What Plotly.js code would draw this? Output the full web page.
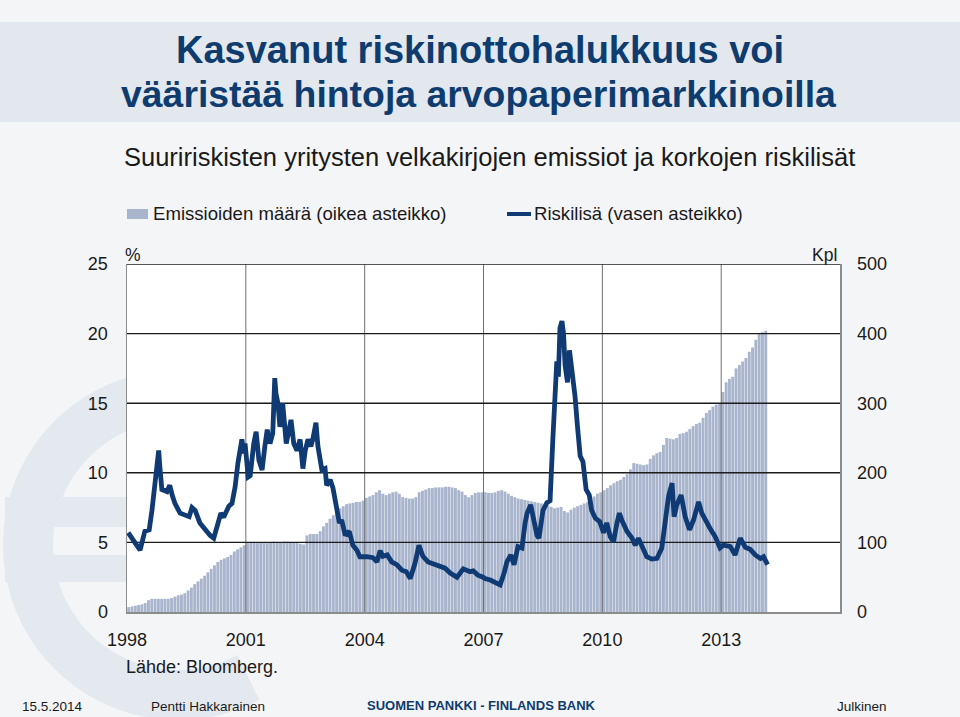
<!DOCTYPE html>
<html><head><meta charset="utf-8">
<script src="https://cdn.plot.ly/plotly-3.0.1.min.js"></script>
<style>html,body{margin:0;padding:0;background:#f4f5f7}#chart{width:960px;height:717px}</style>
</head><body><div id="chart"></div>
<script>
// ---------------- DATA ----------------
const barStartYear = 1998; // monthly issuance counts start Jan 1998
const issuanceCount = [
  7, 8, 9, 10, 11, 13, 17, 19, 19, 19, 19, 19,            // 1998
  19, 20, 22, 24, 25, 27, 31, 35, 40, 44, 48, 52,         // 1999
  57, 62, 67, 72, 75, 77, 79, 82, 87, 90, 93, 96,         // 2000
  99, 100, 100, 99, 100, 99, 99, 100, 101, 100, 100, 101, // 2001
  101, 100, 100, 99, 98, 97, 110, 112, 112, 112, 116, 123,// 2002
  128, 134, 139, 143, 149, 152, 155, 156, 157, 158, 158, 160, // 2003
  164, 166, 168, 172, 175, 170, 168, 170, 172, 173, 170, 165, // 2004
  164, 163, 163, 165, 172, 174, 176, 178, 178, 179, 179, 179, // 2005
  180, 180, 179, 178, 175, 173, 168, 165, 168, 171, 172, 172, // 2006
  172, 171, 171, 172, 174, 175, 173, 170, 167, 165, 163, 162, // 2007
  161, 160, 159, 158, 157, 156, 154, 153, 151, 149, 150, 151, // 2008
  145, 143, 147, 150, 152, 154, 156, 158, 163, 166, 170, 172, // 2009
  175, 178, 182, 185, 188, 190, 194, 198, 205, 214, 213, 212, // 2010
  211, 212, 220, 225, 228, 230, 240, 250, 249, 248, 250, 256, // 2011
  257, 259, 263, 267, 270, 272, 279, 286, 290, 295, 298, 300, // 2012
  316, 330, 335, 338, 350, 355, 360, 365, 374, 380, 391, 400, // 2013
  402, 404                                                    // 2014
];

const riskTime = [
  1998.03,1998.18,1998.33,1998.45,1998.56,1998.63,1998.71,1998.76,1998.80,1998.83,1998.88,
  1999.01,1999.08,1999.14,1999.21,1999.34,1999.46,1999.57,1999.64,1999.72,1999.84,1999.97,
  2000.10,2000.19,2000.27,2000.37,2000.44,2000.57,2000.65,2000.73,2000.80,2000.85,2000.90,2000.95,2000.98,
  2001.06,2001.11,2001.20,2001.26,2001.33,2001.41,2001.48,2001.54,2001.61,2001.68,2001.73,2001.76,2001.81,2001.86,2001.93,2001.98,
  2002.02,2002.08,2002.14,2002.21,2002.29,2002.37,2002.44,2002.50,2002.57,2002.64,2002.69,2002.77,2002.82,2002.92,
  2003.00,2003.04,2003.13,2003.20,2003.30,2003.36,2003.42,2003.51,2003.61,2003.70,2003.80,2003.88,
  2004.05,2004.21,2004.31,2004.39,2004.46,2004.57,2004.68,2004.81,2004.94,
  2005.05,2005.15,2005.27,2005.37,2005.47,2005.60,2005.73,2005.90,
  2006.03,2006.16,2006.33,2006.49,2006.66,2006.74,2006.86,2006.99,
  2007.04,2007.17,2007.29,2007.42,2007.52,2007.59,2007.69,2007.77,2007.87,2007.97,
  2008.05,2008.10,2008.19,2008.25,2008.35,2008.40,2008.50,2008.60,2008.68,2008.75,2008.81,2008.85,2008.89,2008.93,2008.98,
  2009.02,2009.06,2009.12,2009.17,2009.23,2009.31,2009.37,2009.44,2009.51,2009.59,2009.67,2009.73,2009.82,2009.93,
  2010.03,2010.11,2010.20,2010.28,2010.37,2010.43,2010.49,2010.62,2010.75,2010.83,2010.91,
  2011.00,2011.12,2011.25,2011.38,2011.50,2011.54,2011.61,2011.67,2011.76,2011.81,2011.88,2011.99,
  2012.09,2012.20,2012.30,2012.43,2012.51,2012.60,2012.72,2012.85,2012.97,
  2013.06,2013.23,2013.35,2013.48,2013.61,2013.73,2013.86,2013.99,
  2014.07,2014.17
];
const riskSpread = [
  5.7,5.05,4.45,5.8,5.9,7.3,9.7,10.7,11.6,10.4,8.8,
  8.65,9.1,8.4,7.8,7.1,7.0,6.85,7.5,7.3,6.4,5.9,
  5.5,5.3,6.0,7.1,6.8,7.6,7.8,9.0,10.7,11.6,12.4,11.4,12.1,
  9.7,9.8,12.1,12.95,10.9,10.2,11.9,13.1,12.1,12.85,16.8,15.7,15.0,13.3,15.0,12.85,
  12.1,12.95,13.8,12.1,11.6,12.4,10.3,11.6,12.4,11.9,12.4,13.6,11.9,10.2,
  10.3,9.1,9.5,8.9,7.3,6.4,6.6,5.5,5.8,4.8,4.45,3.97,
  3.97,3.9,3.6,4.4,4.0,4.1,3.6,3.4,3.0,
  2.9,2.4,3.5,4.8,4.0,3.6,3.45,3.25,
  3.15,2.8,2.5,3.1,2.9,2.95,2.65,2.5,
  2.4,2.3,2.1,1.95,2.8,3.6,4.1,3.4,4.7,4.6,
  6.4,7.1,7.7,6.85,5.5,5.3,7.3,7.85,8.0,12.4,15.5,18.0,16.9,20.4,20.9,
  20.0,17.7,16.5,18.8,17.5,15.5,13.4,11.2,10.8,8.8,8.4,7.3,6.75,6.5,
  5.7,6.4,5.4,5.05,6.4,7.1,6.6,5.8,5.3,4.8,5.3,
  4.8,3.97,3.8,3.85,4.6,5.4,7.4,8.3,9.25,6.85,7.7,8.4,
  6.85,5.9,6.6,7.9,7.1,6.6,6.0,5.4,4.6,
  4.8,4.7,4.1,5.3,4.65,4.5,4.1,3.85,
  3.97,3.4
];

const leftTicks = [0, 5, 10, 15, 20, 25];
const rightTicks = [0, 100, 200, 300, 400, 500];
const yearTicks = [1998, 2001, 2004, 2007, 2010, 2013];
const xStart = 1998, xEnd = 2016;

const barName = 'Emissioiden määrä (oikea asteikko)';
const lineName = 'Riskilisä (vasen asteikko)';

// ---------------- STYLE / GEOMETRY ----------------
const W = 960, H = 717;
const M = {l: 127, r: 120, t: 264, b: 105};
const PW = W - M.l - M.r, PH = H - M.t - M.b;
const px = v => (v - M.l) / PW;          // pixel x -> paper x
const py = v => (H - M.b - v) / PH;      // pixel y -> paper y

const NAVY = '#0f3a73';
const BAR = '#a9b5cc';
const FONT = 'Liberation Sans, Arial, sans-serif';

const barX = issuanceCount.map((_, i) => barStartYear + (i + 0.5) / 12);

// gridlines (helper traces above the bars, below the line)
const gx = [], gy = [];
rightTicks.slice(1).forEach(t => { gx.push(xStart, xEnd, null); gy.push(t, t, null); });
const vgx = [], vgy = [];
yearTicks.slice(1).forEach(t => { vgx.push(t, t, null); vgy.push(0, 500, null); });

const traces = [
  {type: 'bar', x: barX, y: issuanceCount, yaxis: 'y', name: barName,
   marker: {color: BAR, line: {width: 0}}, hoverinfo: 'skip'},
  {type: 'scatter', mode: 'lines', x: vgx, y: vgy, yaxis: 'y', showlegend: false,
   line: {color: '#6f6f6f', width: 1}, hoverinfo: 'skip'},
  {type: 'scatter', mode: 'lines', x: gx, y: gy, yaxis: 'y', showlegend: false,
   line: {color: '#1c1c1c', width: 1.4}, hoverinfo: 'skip'},
  {type: 'scatter', mode: 'lines', x: riskTime, y: riskSpread, yaxis: 'y2', name: lineName,
   line: {color: NAVY, width: 4.8, shape: 'linear'}, hoverinfo: 'skip'}
];

// euro decoration path
const euroPts = [];
for (let a = 62; a <= 298; a += 4) {
  const r = 150, cx = 178, cy = 545;
  const X = cx + r * Math.cos(a * Math.PI / 180), Y = cy - r * Math.sin(a * Math.PI / 180);
  euroPts.push(px(X).toFixed(4) + ',' + py(Y).toFixed(4));
}
const euroPath = 'M' + euroPts.join(' L');
const EURO = '#e4e9f0';

const shapes = [
  {type: 'rect', xref: 'paper', yref: 'paper', x0: px(0), x1: px(W), y0: py(122), y1: py(22),
   fillcolor: '#e3e8ef', line: {width: 0}, layer: 'below'},
  {type: 'path', xref: 'paper', yref: 'paper', path: euroPath, line: {color: EURO, width: 50}, layer: 'below'},
  {type: 'rect', xref: 'paper', yref: 'paper', x0: px(5), x1: px(127), y0: py(527), y1: py(497),
   fillcolor: EURO, line: {width: 0}, layer: 'below'},
  {type: 'rect', xref: 'paper', yref: 'paper', x0: px(5), x1: px(127), y0: py(582), y1: py(555),
   fillcolor: EURO, line: {width: 0}, layer: 'below'},
  {type: 'rect', xref: 'paper', yref: 'paper', x0: 0, x1: 1, y0: 0, y1: 1,
   fillcolor: '#ffffff', line: {width: 0}, layer: 'below'},
  // legend swatches
  {type: 'rect', xref: 'paper', yref: 'paper', x0: px(127), x1: px(148), y0: py(219), y1: py(209),
   fillcolor: BAR, line: {width: 0}},
  {type: 'line', xref: 'paper', yref: 'paper', x0: px(507), x1: px(531), y0: py(214), y1: py(214),
   line: {color: NAVY, width: 4}}
];

function ann(text, x, y, size, opts) {
  return Object.assign({xref: 'paper', yref: 'paper', x: px(x), y: py(y), text: text, showarrow: false,
    xanchor: 'center', yanchor: 'middle', font: {family: FONT, size: size, color: '#1a1a1a'}}, opts || {});
}
const foot = (c) => ({family: FONT, size: 13.5, color: c || '#1a1a1a'});

const annotations = [
  ann('<b>Kasvanut riskinottohalukkuus voi</b>', 480, 50, 38, {font: {family: FONT, size: 38, color: '#0f3c6e'}}),
  ann('<b>vääristää hintoja arvopaperimarkkinoilla</b>', 479, 94, 37.4, {font: {family: FONT, size: 37.4, color: '#0f3c6e'}}),
  ann('Suuririskisten yritysten velkakirjojen emissiot ja korkojen riskilisät', 490, 157, 25.5),
  ann(barName, 151, 214, 18.6, {xanchor: 'left'}),
  ann(lineName, 532, 214, 18.6, {xanchor: 'left'}),
  ann('%', 123, 255, 17.5, {xanchor: 'left'}),
  ann('Kpl', 839, 255, 17.5, {xanchor: 'right'}),
  ann('Lähde: Bloomberg.', 124, 667, 18, {xanchor: 'left'}),
  ann('15.5.2014', 20, 706, 13.5, {xanchor: 'left', font: foot()}),
  ann('Pentti Hakkarainen', 149, 706, 13.5, {xanchor: 'left', font: foot()}),
  ann('<b>SUOMEN PANKKI - FINLANDS BANK</b>', 365, 705, 13, {xanchor: 'left', font: {family: FONT, size: 13, color: '#0f3c6e'}}),
  ann('Julkinen', 835, 706, 13.5, {xanchor: 'left', font: foot()})
];

const tickFont = {family: FONT, size: 18, color: '#1a1a1a'};
const layout = {
  width: W, height: H, margin: M,
  paper_bgcolor: '#f4f5f7', plot_bgcolor: '#ffffff',
  showlegend: false, bargap: 0.12,
  xaxis: {range: [xStart, xEnd - 0.001], tickmode: 'array', tickvals: yearTicks, ticktext: yearTicks.map(String),
    showgrid: false, zeroline: false, showline: true, linecolor: '#8c8c8c', linewidth: 1.5, mirror: false,
    ticks: 'outside', ticklen: 11, tickcolor: 'rgba(0,0,0,0)', tickfont: tickFont},
  yaxis: {range: [0, 500], side: 'right', tickmode: 'array', tickvals: rightTicks, ticktext: rightTicks.map(String),
    showgrid: false, zeroline: false, showline: true, linecolor: '#8c8c8c', linewidth: 1.5,
    ticks: 'outside', ticklen: 12, tickcolor: 'rgba(0,0,0,0)', tickfont: tickFont},
  yaxis2: {range: [0, 25], side: 'left', overlaying: 'y', tickmode: 'array', tickvals: leftTicks, ticktext: leftTicks.map(String),
    showgrid: false, zeroline: false, showline: true, linecolor: '#8c8c8c', linewidth: 1.5,
    ticks: 'outside', ticklen: 14, tickcolor: 'rgba(0,0,0,0)', tickfont: tickFont},
  shapes: shapes, annotations: annotations
};

Plotly.newPlot('chart', traces, layout, {staticPlot: true, displayModeBar: false});
</script>
</body></html>
